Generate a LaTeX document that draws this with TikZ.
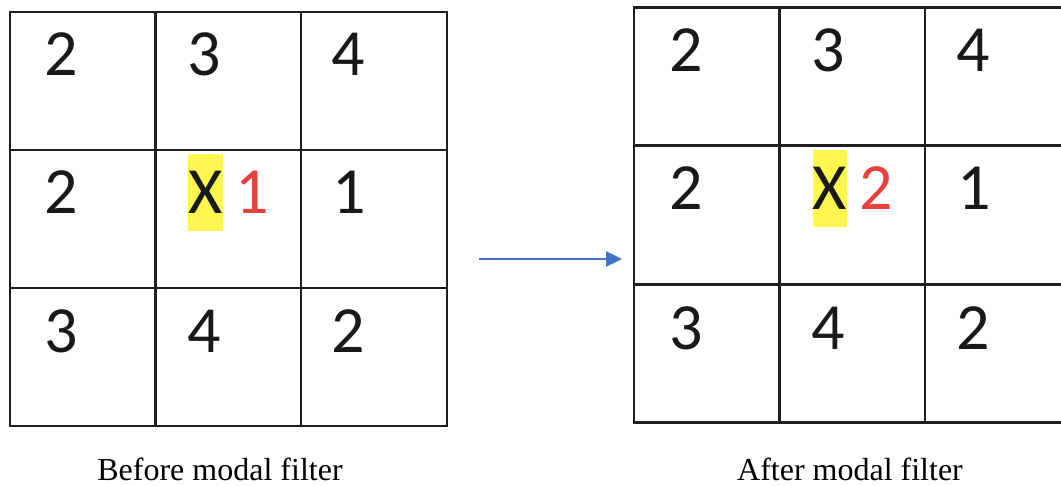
\documentclass[tikz,border=0pt]{standalone}
\usepackage{fontspec}
\setmainfont{Liberation Serif}
\newfontfamily\numfont{Carlito}
\usetikzlibrary{calc,arrows.meta}
\definecolor{gridline}{RGB}{30,30,30}
\definecolor{hilite}{RGB}{255,246,80}
\definecolor{redval}{RGB}{232,64,58}
\definecolor{arrowblue}{RGB}{68,114,196}
\begin{document}
\begin{tikzpicture}[x=1pt,y=-1pt,
  cell/.style={draw=gridline, line width=2.4pt, minimum width=145.6pt, minimum height=138.2pt,
               inner sep=0pt, outer sep=0pt, anchor=north west},
  num/.style={font=\numfont\fontsize{66}{70}\selectfont, anchor=base, inner sep=0pt, text=black!90},
  redvalue/.style={num, text=redval},
  marked/.style={num, fill=hilite, text height=60pt, text depth=17pt},
  caption/.style={font=\fontsize{32}{36}\selectfont, anchor=base, inner sep=0pt},
  flow/.style={draw=arrowblue, line width=2.4pt, -{Triangle[length=16pt,width=15pt]}}]
  \useasboundingbox (0,0) rectangle (1061,486);
  \clip (0,0) rectangle (1061,486);

  % the two 3x3 grids
  \foreach \r in {0,1,2}{
    \foreach \c in {0,1,2}{
      \node[cell] (L\r\c) at ({10+\c*145.6},{12+\r*138}) {};
      \node[cell] (R\r\c) at ({634+\c*145.6},{7.5+\r*138.5}) {};
    }
  }

  % values before filtering
  \node[num] (l00) at ($(L00.north west)+(51.5,64)$) {2};
  \node[num] (l01) at ($(L01.north west)+(49,64)$) {3};
  \node[num] (l02) at ($(L02.north west)+(47,64)$) {4};
  \node[num] (l10) at ($(L10.north west)+(51.5,64)$) {2};
  \node[marked] (l11) at ($(L11.north west)+(50,64)$) {X};
  \node[redvalue] (l11v) at ($(L11.north west)+(96.5,64)$) {1};
  \node[num] (l12) at ($(L12.north west)+(48,64)$) {1};
  \node[num] (l20) at ($(L20.north west)+(51.5,65)$) {3};
  \node[num] (l21) at ($(L21.north west)+(49,65)$) {4};
  \node[num] (l22) at ($(L22.north west)+(47.5,65)$) {2};

  % values after filtering
  \node[num] (r00) at ($(R00.north west)+(52,64)$) {2};
  \node[num] (r01) at ($(R01.north west)+(49,64)$) {3};
  \node[num] (r02) at ($(R02.north west)+(48,64)$) {4};
  \node[num] (r10) at ($(R10.north west)+(52,64)$) {2};
  \node[marked] (r11) at ($(R11.north west)+(50.5,64)$) {X};
  \node[redvalue] (r11v) at ($(R11.north west)+(97,64)$) {2};
  \node[num] (r12) at ($(R12.north west)+(49.5,64)$) {1};
  \node[num] (r20) at ($(R20.north west)+(52,65)$) {3};
  \node[num] (r21) at ($(R21.north west)+(48.5,65)$) {4};
  \node[num] (r22) at ($(R22.north west)+(48.5,65)$) {2};

  % transition arrow
  \coordinate (arrowstart) at (479,259);
  \coordinate (arrowend) at (622,259);
  \draw[flow] (arrowstart) -- (arrowend);

  % captions
  \node[caption] (capL) at (220,480.5) {Before modal filter};
  \node[caption] (capR) at (850,480.5) {After modal filter};
\end{tikzpicture}
\end{document}
